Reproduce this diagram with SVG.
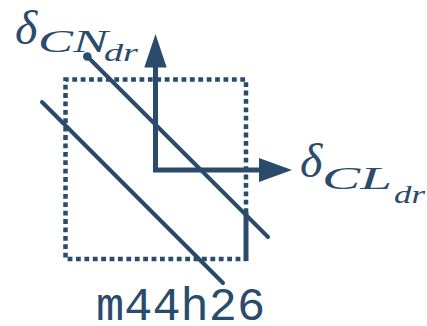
<svg xmlns="http://www.w3.org/2000/svg" width="427" height="326" viewBox="0 0 427 326">
<style>
.ln{stroke:#2a4b6c;fill:none;stroke-width:4;stroke-linecap:round}
.ax{stroke:#2a4b6c;fill:none;stroke-width:5;stroke-linejoin:miter}
.dot{stroke:#2a4b6c;fill:none;stroke-width:4.5;stroke-dasharray:4.8 3.6}
.hd{fill:#2a4b6c}
.m{font-family:"Liberation Serif","DejaVu Serif",serif;font-style:italic;fill:#2a4b6c}
.tt{font-family:"Liberation Mono","DejaVu Sans Mono",monospace;fill:#2a4b6c}
</style>
<g id="box">
<path class="dot" d="M246,213 V79.5 H65.5 V259 H246"/>
<line x1="246" y1="212" x2="246" y2="261" stroke="#2a4b6c" stroke-width="5"/>
</g>
<g id="connectors">
<line class="ln" x1="87.3" y1="56.5" x2="268" y2="237"/>
<circle class="hd" cx="87.3" cy="56.5" r="4.3"/>
<line class="ln" x1="42" y1="102" x2="223" y2="283"/>
<path class="ax" d="M155.5,50 V170 H280"/>
<polygon class="hd" points="155.5,34 166.7,67.5 144.3,67.5"/>
<polygon class="hd" points="292,170 259,158 259,182"/>
</g>
<g id="label-cn">
<text class="m" x="15" y="44" font-size="48">δ</text>
<text class="m" x="38" y="52" font-size="32" textLength="70" lengthAdjust="spacingAndGlyphs">CN</text>
<text class="m" x="104" y="61" font-size="25" textLength="34" lengthAdjust="spacingAndGlyphs">dr</text>
</g>
<g id="label-cl">
<text class="m" x="300" y="177" font-size="48">δ</text>
<text class="m" x="322" y="189" font-size="32" textLength="70" lengthAdjust="spacingAndGlyphs">CL</text>
<text class="m" x="394" y="203" font-size="25" textLength="31" lengthAdjust="spacingAndGlyphs">dr</text>
</g>
<g id="caption">
<text class="tt" x="96" y="320" font-size="47">m44h26</text>
</g>
</svg>
